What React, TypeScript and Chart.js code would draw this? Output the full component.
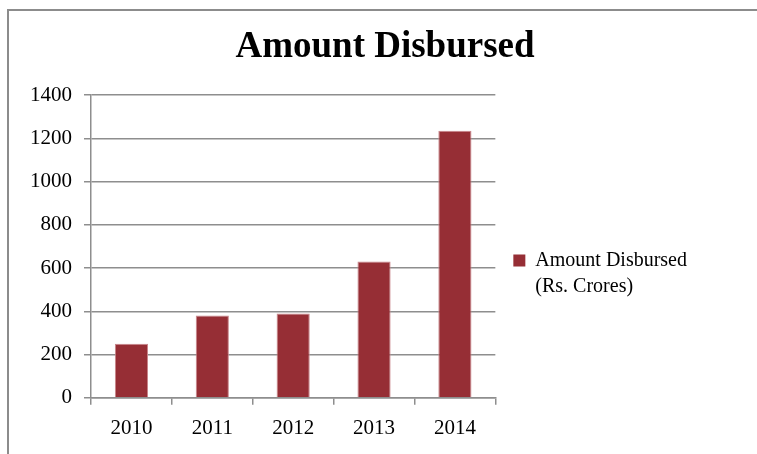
import React, { useEffect, useRef } from "react";
import { Chart, registerables } from "chart.js";

Chart.register(...registerables);

const chartTitle = "Amount Disbursed";
const categories = ["2010", "2011", "2012", "2013", "2014"];
const amountDisbursed = [250, 380, 390, 630, 1235];
const legendLines = ["Amount Disbursed", "(Rs. Crores)"];
const yMin = 0;
const yMax = 1400;
const yStep = 200;

const FONT = "'Liberation Serif', 'Times New Roman', serif";
const BAR_COLOR = "#962E35";
const BAR_BORDER = "#c9868b";
const GRID = "#8e8e8e";

export default function App() {
  const canvasRef = useRef<HTMLCanvasElement | null>(null);

  useEffect(() => {
    const ctx = canvasRef.current;
    if (!ctx) return;
    const chart = new Chart(ctx, {
      type: "bar",
      data: {
        labels: categories,
        datasets: [
          {
            label: legendLines.join(" "),
            data: amountDisbursed,
            backgroundColor: BAR_COLOR,
            borderColor: BAR_BORDER,
            borderWidth: 1,
            categoryPercentage: 1,
            barPercentage: 0.41,
            yAxisID: "y",
          },
        ],
      },
      options: {
        animation: false,
        responsive: true,
        maintainAspectRatio: false,
        layout: { padding: { left: 25, right: 12, top: 0, bottom: 2 } },
        plugins: {
          tooltip: { enabled: false },
          title: {
            display: true,
            text: chartTitle,
            color: "#000",
            font: { family: FONT, size: 37, weight: "bold", lineHeight: 1.2 },
            padding: { top: 25, bottom: 25.6 },
          },
          legend: {
            display: true,
            position: "right",
            maxWidth: 400,
            title: {
              display: true,
              text: "",
              font: { family: FONT, size: 20, lineHeight: 1.2 },
              padding: { top: 77, bottom: 0 },
            },
            labels: {
              color: "#000",
              font: { family: FONT, size: 20, lineHeight: 1.3 },
              boxWidth: 12,
              boxHeight: 12,
              padding: 18,
              generateLabels: () => [
                {
                  text: legendLines as any,
                  fillStyle: BAR_COLOR,
                  strokeStyle: BAR_COLOR,
                  lineWidth: 0,
                  fontColor: "#000",
                  textAlign: "left",
                  hidden: false,
                  datasetIndex: 0,
                } as any,
              ],
            },
          },
        },
        scales: {
          x: {
            grid: {
              display: true,
              drawOnChartArea: false,
              drawTicks: true,
              tickLength: 7,
              color: GRID,
              lineWidth: 1.5,
              offset: true,
            },
            border: { display: true, color: GRID, width: 1.5 },
            ticks: {
              color: "#000",
              padding: 11,
              font: { family: FONT, size: 21 },
              maxRotation: 0,
            },
          },
          y: {
            min: yMin,
            max: yMax,
            afterFit: (scale: any) => {
              scale.width = 66;
            },
            grid: {
              color: GRID,
              lineWidth: 1.5,
              drawTicks: true,
              tickLength: 7,
            },
            border: { display: true, color: GRID, width: 1.5 },
            ticks: {
              stepSize: yStep,
              color: "#000",
              padding: 12,
              font: { family: FONT, size: 21 },
              callback: (value: any) => String(value),
            },
          },
          // blank margin on the right of the plot (part of the chart frame), beyond the legend
          frameRight: {
            type: "linear",
            axis: "y",
            position: "right",
            weight: 2000,
            display: true,
            grid: { display: false },
            border: { display: false },
            ticks: { display: false },
            afterFit: (scale: any) => {
              scale.width = 48;
            },
          },
        },
      },
    });
    return () => chart.destroy();
  }, []);

  return (
    <div
      style={{
        position: "fixed",
        left: 0,
        top: 0,
        width: 757,
        height: 454,
        overflow: "hidden",
        background: "#fff",
      }}
    >
      <div
        style={{
          position: "absolute",
          left: 7,
          top: 9,
          width: 800,
          height: 500,
          borderTop: "2px solid #8c8c8c",
          borderLeft: "2px solid #8c8c8c",
        }}
      />
      <div style={{ position: "absolute", left: 0, top: 0, width: 757, height: 454 }}>
        <canvas ref={canvasRef} />
      </div>
    </div>
  );
}
